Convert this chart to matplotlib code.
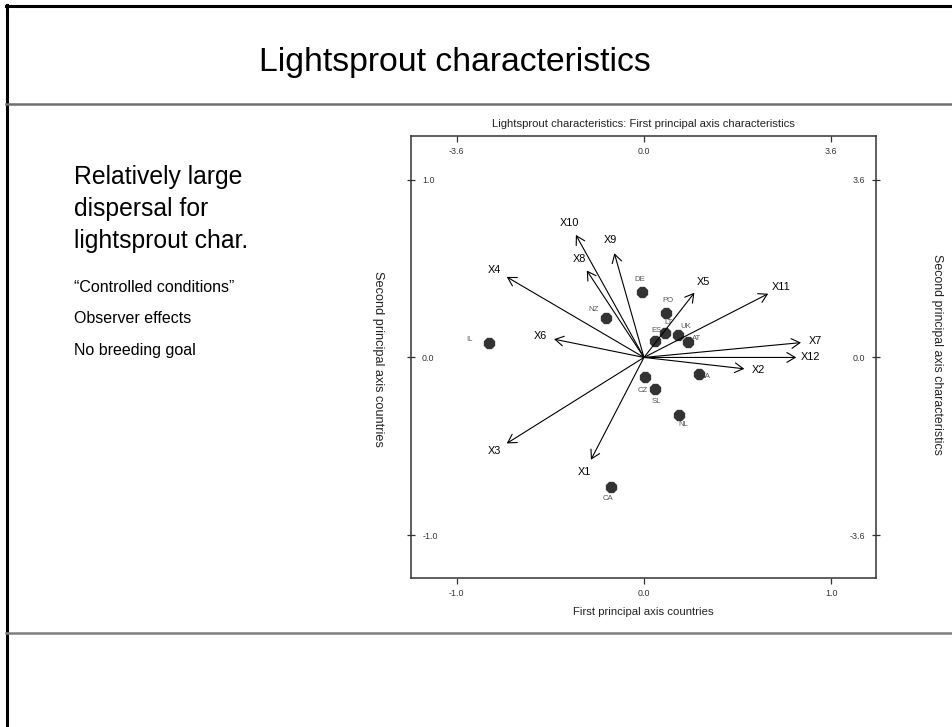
import numpy as np
import matplotlib
matplotlib.use("Agg")
import matplotlib.pyplot as plt
from matplotlib.lines import Line2D

plt.rcParams['font.family'] = ['Liberation Sans', 'DejaVu Sans']
plt.rcParams['axes.unicode_minus'] = False

# Country scores on the first and second principal axes
countries = ["DE", "PO", "NZ", "IL", "LT", "UK", "AT", "ES", "CZ", "SL", "ZA", "NL", "CA"]
country_x = [-0.012, 0.120, -0.205, -0.829, 0.112, 0.182, 0.235, 0.059, 0.005, 0.059, 0.294, 0.187, -0.174]
country_y = [0.370, 0.252, 0.221, 0.084, 0.137, 0.127, 0.086, 0.095, -0.111, -0.178, -0.092, -0.324, -0.729]

# Characteristic loadings (characteristics scale)
characteristics = ["X1", "X2", "X3", "X4", "X5", "X6", "X7", "X8", "X9", "X10", "X11", "X12"]
char_x = [-1.02, 1.93, -2.64, -2.64, 0.97, -1.73, 3.02, -1.10, -0.57, -1.31, 2.39, 2.93]
char_y = [-2.07, -0.23, -1.74, 1.63, 1.31, 0.37, 0.30, 1.76, 2.11, 2.48, 1.29, 0.00]

# Axis ticks
country_ticks = [-1.0, 0.0, 1.0]
scale = 3.6  # characteristics axis = countries axis * scale

# Slide text
slide_title = "Lightsprout characteristics"
main_points = ["Relatively large", "dispersal for", "lightsprout char."]
sub_points = ["\u201cControlled conditions\u201d", "Observer effects", "No breeding goal"]

W, H = 952, 727
DPI = 100
fig = plt.figure(figsize=(W / DPI, H / DPI), dpi=DPI)
fig.patch.set_facecolor("white")


def fx(x):
    return x / W


def fy(y):
    return 1 - y / H


# Slide frame lines
fig.add_artist(Line2D([fx(6), 1], [fy(5.5), fy(5.5)], color="black", lw=2.2))
fig.add_artist(Line2D([fx(6.5), fx(6.5)], [fy(5), 0], color="black", lw=2.2))
fig.add_artist(Line2D([fx(6), 1], [fy(104), fy(104)], color="#6e6e6e", lw=1.8))
fig.add_artist(Line2D([fx(6), 1], [fy(633), fy(633)], color="#7f7f7f", lw=1.8))

fig.text(fx(455), fy(62), slide_title, fontsize=24.3, ha="center", va="center", color="black")
for i, s in enumerate(main_points):
    fig.text(fx(74), fy(177 + 32 * i), s, fontsize=17.8, ha="left", va="center", color="black")
for i, s in enumerate(sub_points):
    fig.text(fx(74), fy(287 + 31.5 * i), s, fontsize=11.5, ha="left", va="center", color="black")

# Biplot axes
L, R, T, B = 411, 876, 136, 578
ax = fig.add_axes([fx(L), fy(B), (R - L) / W, (B - T) / H])
xlim = (-1.245, 1.24)
ylim = (-1.24, 1.245)
ax.set_xlim(*xlim)
ax.set_ylim(*ylim)
for sp in ax.spines.values():
    sp.set_color("#333333")
    sp.set_linewidth(1.1)

tick_fs = 6.4
fmt = lambda v, p: "%.1f" % v
ax.set_xticks(country_ticks)
ax.set_yticks(country_ticks)
ax.xaxis.set_major_formatter(matplotlib.ticker.FuncFormatter(fmt))
ax.yaxis.set_major_formatter(matplotlib.ticker.FuncFormatter(fmt))
ax.tick_params(axis="x", direction="out", length=4, width=0.9, color="#333333",
               labelsize=tick_fs, labelcolor="#333333", pad=4)
ax.tick_params(axis="y", direction="inout", length=6, width=0.9, color="#333333",
               labelsize=tick_fs, labelcolor="#333333", pad=-11)
for lab in ax.get_yticklabels():
    lab.set_horizontalalignment("left")

secx = ax.secondary_xaxis("top", functions=(lambda v: v * scale, lambda v: v / scale))
secx.set_xticks([t * scale for t in country_ticks])
secx.xaxis.set_major_formatter(matplotlib.ticker.FuncFormatter(fmt))
secx.tick_params(direction="in", length=4, width=0.9, color="#333333",
                 labelsize=tick_fs, labelcolor="#333333", pad=-8)
for lab in secx.get_xticklabels():
    lab.set_verticalalignment("top")

secy = ax.secondary_yaxis("right", functions=(lambda v: v * scale, lambda v: v / scale))
secy.set_yticks([t * scale for t in country_ticks])
secy.yaxis.set_major_formatter(matplotlib.ticker.FuncFormatter(fmt))
secy.tick_params(direction="inout", length=6, width=0.9, color="#333333",
                 labelsize=tick_fs, labelcolor="#333333", pad=-11)
for lab in secy.get_yticklabels():
    lab.set_horizontalalignment("right")
for sp in list(secx.spines.values()) + list(secy.spines.values()):
    sp.set_visible(False)

# Titles and axis labels
fig.text(fx(643), fy(124), "Lightsprout characteristics: First principal axis characteristics",
         fontsize=8.1, ha="center", va="center", color="#222222")
fig.text(fx(643), fy(612), "First principal axis countries",
         fontsize=8.2, ha="center", va="center", color="#222222")
fig.text(fx(378), fy(359), "Second principal axis countries",
         fontsize=9.2, ha="center", va="center", rotation=-90, color="#222222")
fig.text(fx(937), fy(354), "Second principal axis characteristics",
         fontsize=8.9, ha="center", va="center", rotation=-90, color="#222222")

# Country points with labels
label_offsets = {
    "DE": (-2, 12), "PO": (2, 12), "NZ": (-12, 9), "IL": (-19, 3), "LT": (4, 11),
    "UK": (8, 8), "AT": (9, 4), "ES": (2, 10), "CZ": (-2, -13), "SL": (1, -12),
    "ZA": (7, -3), "NL": (4, -9), "CA": (-3, -11),
}
pt = 72 / DPI
ax.scatter(country_x, country_y, s=78, marker="8", color="#333333", zorder=4, linewidths=0)
for name, x, y in zip(countries, country_x, country_y):
    ox, oy = label_offsets[name]
    ax.annotate(name, (x, y), xytext=(ox * pt, oy * pt), textcoords="offset points",
                ha="center", va="center", fontsize=5.6, color="#555555", zorder=3)

# Characteristic arrows on an overlaid axes in characteristics units
axc = fig.add_axes(ax.get_position(), facecolor="none")
axc.set_xlim(xlim[0] * scale, xlim[1] * scale)
axc.set_ylim(ylim[0] * scale, ylim[1] * scale)
axc.axis("off")
fig.canvas.draw()
o = axc.transData.transform((0, 0))
for name, x, y in zip(characteristics, char_x, char_y):
    axc.annotate("", xy=(x, y), xytext=(0, 0),
                 arrowprops=dict(arrowstyle="->,head_length=0.6,head_width=0.35",
                                 lw=0.8, color="black", shrinkA=0, shrinkB=0,
                                 mutation_scale=10), zorder=5)
    t = axc.transData.transform((x, y))
    d = (t - o) / np.hypot(*(t - o))
    off = d * 14 * pt
    axc.annotate(name, (x, y), xytext=(off[0], off[1]), textcoords="offset points",
                 ha="center", va="center", fontsize=7.8, color="black")

fig.savefig("out.png", dpi=DPI, facecolor="white")
